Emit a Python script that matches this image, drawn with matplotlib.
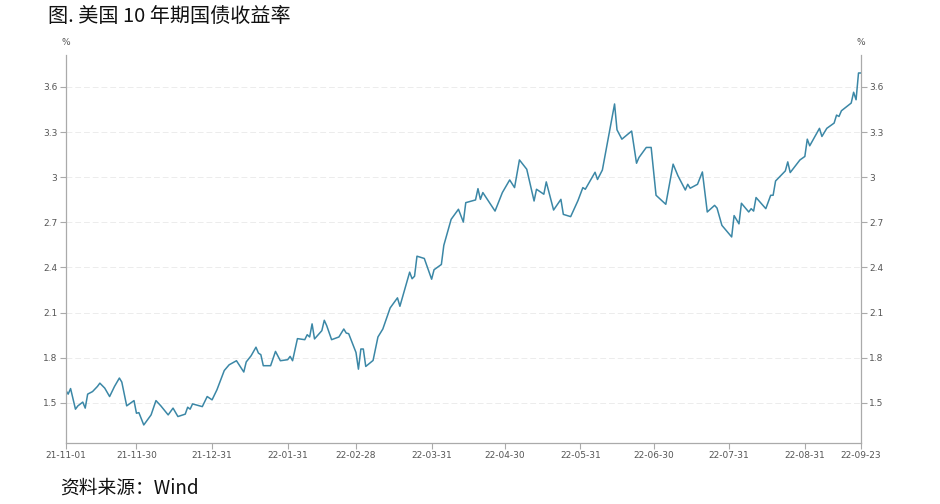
import matplotlib
matplotlib.use("Agg")
import matplotlib.pyplot as plt
import pandas as pd

dates = [
    "2021-11-01", "2021-11-02", "2021-11-03", "2021-11-05", "2021-11-06", "2021-11-08",
    "2021-11-09", "2021-11-10", "2021-11-12", "2021-11-14", "2021-11-15", "2021-11-17",
    "2021-11-19", "2021-11-21", "2021-11-23", "2021-11-24", "2021-11-26", "2021-11-29",
    "2021-11-30", "2021-12-01", "2021-12-03", "2021-12-06", "2021-12-08", "2021-12-10",
    "2021-12-13", "2021-12-15", "2021-12-17", "2021-12-20", "2021-12-21", "2021-12-22",
    "2021-12-23", "2021-12-27", "2021-12-29", "2021-12-31", "2022-01-02", "2022-01-05",
    "2022-01-07", "2022-01-10", "2022-01-13", "2022-01-14", "2022-01-16", "2022-01-18",
    "2022-01-19", "2022-01-20", "2022-01-21", "2022-01-24", "2022-01-26", "2022-01-28",
    "2022-01-31", "2022-02-01", "2022-02-02", "2022-02-04", "2022-02-07", "2022-02-08",
    "2022-02-09", "2022-02-10", "2022-02-11", "2022-02-14", "2022-02-15", "2022-02-16",
    "2022-02-18", "2022-02-21", "2022-02-23", "2022-02-24", "2022-02-25", "2022-02-28",
    "2022-03-01", "2022-03-02", "2022-03-03", "2022-03-04", "2022-03-07", "2022-03-09",
    "2022-03-11", "2022-03-14", "2022-03-17", "2022-03-18", "2022-03-22", "2022-03-23",
    "2022-03-24", "2022-03-25", "2022-03-28", "2022-03-31", "2022-04-01", "2022-04-04",
    "2022-04-05", "2022-04-08", "2022-04-11", "2022-04-13", "2022-04-14", "2022-04-18",
    "2022-04-19", "2022-04-20", "2022-04-21", "2022-04-26", "2022-04-29", "2022-05-02",
    "2022-05-04", "2022-05-06", "2022-05-09", "2022-05-12", "2022-05-13", "2022-05-16",
    "2022-05-17", "2022-05-20", "2022-05-23", "2022-05-24", "2022-05-27", "2022-05-30",
    "2022-06-01", "2022-06-02", "2022-06-06", "2022-06-07", "2022-06-09", "2022-06-14",
    "2022-06-15", "2022-06-17", "2022-06-21", "2022-06-23", "2022-06-24", "2022-06-27",
    "2022-06-29", "2022-07-01", "2022-07-05", "2022-07-08", "2022-07-10", "2022-07-13",
    "2022-07-14", "2022-07-15", "2022-07-18", "2022-07-20", "2022-07-22", "2022-07-25",
    "2022-07-26", "2022-07-28", "2022-08-01", "2022-08-02", "2022-08-04", "2022-08-05",
    "2022-08-08", "2022-08-09", "2022-08-10", "2022-08-11", "2022-08-15", "2022-08-17",
    "2022-08-18", "2022-08-19", "2022-08-23", "2022-08-24", "2022-08-25", "2022-08-29",
    "2022-08-31", "2022-09-01", "2022-09-02", "2022-09-06", "2022-09-07", "2022-09-09",
    "2022-09-12", "2022-09-13", "2022-09-14", "2022-09-15", "2022-09-19", "2022-09-20",
    "2022-09-21", "2022-09-22", "2022-09-23",
]
yields = [
    1.585, 1.558, 1.595, 1.458, 1.480, 1.505,
    1.465, 1.558, 1.575, 1.609, 1.631, 1.598,
    1.542, 1.609, 1.665, 1.638, 1.480, 1.515,
    1.431, 1.435, 1.353, 1.420, 1.515, 1.480,
    1.420, 1.465, 1.409, 1.425, 1.471, 1.458,
    1.493, 1.475, 1.542, 1.520, 1.587, 1.715,
    1.753, 1.780, 1.705, 1.772, 1.813, 1.870,
    1.831, 1.820, 1.747, 1.747, 1.842, 1.780,
    1.787, 1.809, 1.780, 1.927, 1.920, 1.953,
    1.938, 2.025, 1.925, 1.980, 2.049, 2.013,
    1.920, 1.938, 1.991, 1.964, 1.960, 1.835,
    1.724, 1.858, 1.858, 1.742, 1.782, 1.938,
    1.991, 2.131, 2.198, 2.142, 2.369, 2.325,
    2.342, 2.475, 2.460, 2.322, 2.385, 2.420,
    2.547, 2.720, 2.787, 2.702, 2.831, 2.849,
    2.924, 2.853, 2.898, 2.775, 2.898, 2.982,
    2.931, 3.115, 3.053, 2.842, 2.920, 2.887,
    2.969, 2.782, 2.853, 2.753, 2.738, 2.845,
    2.931, 2.920, 3.033, 2.985, 3.048, 3.487,
    3.315, 3.253, 3.307, 3.093, 3.131, 3.198,
    3.198, 2.880, 2.820, 3.087, 3.009, 2.915,
    2.953, 2.927, 2.953, 3.035, 2.769, 2.813,
    2.795, 2.680, 2.603, 2.745, 2.690, 2.827,
    2.769, 2.791, 2.775, 2.865, 2.791, 2.880,
    2.880, 2.975, 3.042, 3.102, 3.031, 3.115,
    3.138, 3.253, 3.209, 3.325, 3.271, 3.325,
    3.360, 3.413, 3.404, 3.442, 3.493, 3.565,
    3.515, 3.693, 3.693,
]
tick_dates = ["2021-11-01", "2021-11-30", "2021-12-31", "2022-01-31", "2022-02-28", "2022-03-31",
              "2022-04-30", "2022-05-31", "2022-06-30", "2022-07-31", "2022-08-31", "2022-09-23"]
y_ticks = [1.5, 1.8, 2.1, 2.4, 2.7, 3.0, 3.3, 3.6]
y_labels = ["1.5", "1.8", "2.1", "2.4", "2.7", "3", "3.3", "3.6"]

cjk = ["Noto Sans CJK SC", "DejaVu Sans"]
x = pd.to_datetime(dates)
xt = pd.to_datetime(tick_dates)

fig = plt.figure(figsize=(9.4, 5.04), dpi=100)
ax = fig.add_axes([0.0699, 0.121, 0.846, 0.770])
ax.plot(x, yields, color="#3b87a6", lw=1.1)

ax.set_xlim(xt[0], xt[-1])
ax.set_ylim(1.233, 3.813)
ax.set_xticks(xt)
ax.set_xticklabels([d.strftime("%y-%m-%d") for d in xt])
ax.set_yticks(y_ticks)
ax.set_yticklabels(y_labels)
ax.grid(axis="y", color="#ececec", lw=0.7, ls=(0, (6, 3)))
ax.set_axisbelow(True)

for s in ["left", "bottom", "right"]:
    ax.spines[s].set_color("#aaaaaa")
    ax.spines[s].set_linewidth(0.9)
ax.spines["top"].set_visible(False)
ax.tick_params(axis="both", colors="#aaaaaa", labelcolor="#555555", labelsize=6.5,
               length=4, width=0.8, pad=2)
ax.tick_params(axis="y", right=True, labelright=True)

ax.text(0.0, 1.02, "%", transform=ax.transAxes, ha="center", va="bottom",
        fontsize=6.5, color="#555555")
ax.text(1.0, 1.02, "%", transform=ax.transAxes, ha="center", va="bottom",
        fontsize=6.5, color="#555555")

fig.text(0.051, 0.968, "图. 美国 10 年期国债收益率", family=cjk, fontsize=14.5,
         ha="left", va="center", color="#111111")
fig.text(0.064, 0.032, "资料来源：Wind", family=cjk, fontsize=13.5,
         ha="left", va="center", color="#111111")

fig.savefig("out.png", dpi=100, facecolor="white")
